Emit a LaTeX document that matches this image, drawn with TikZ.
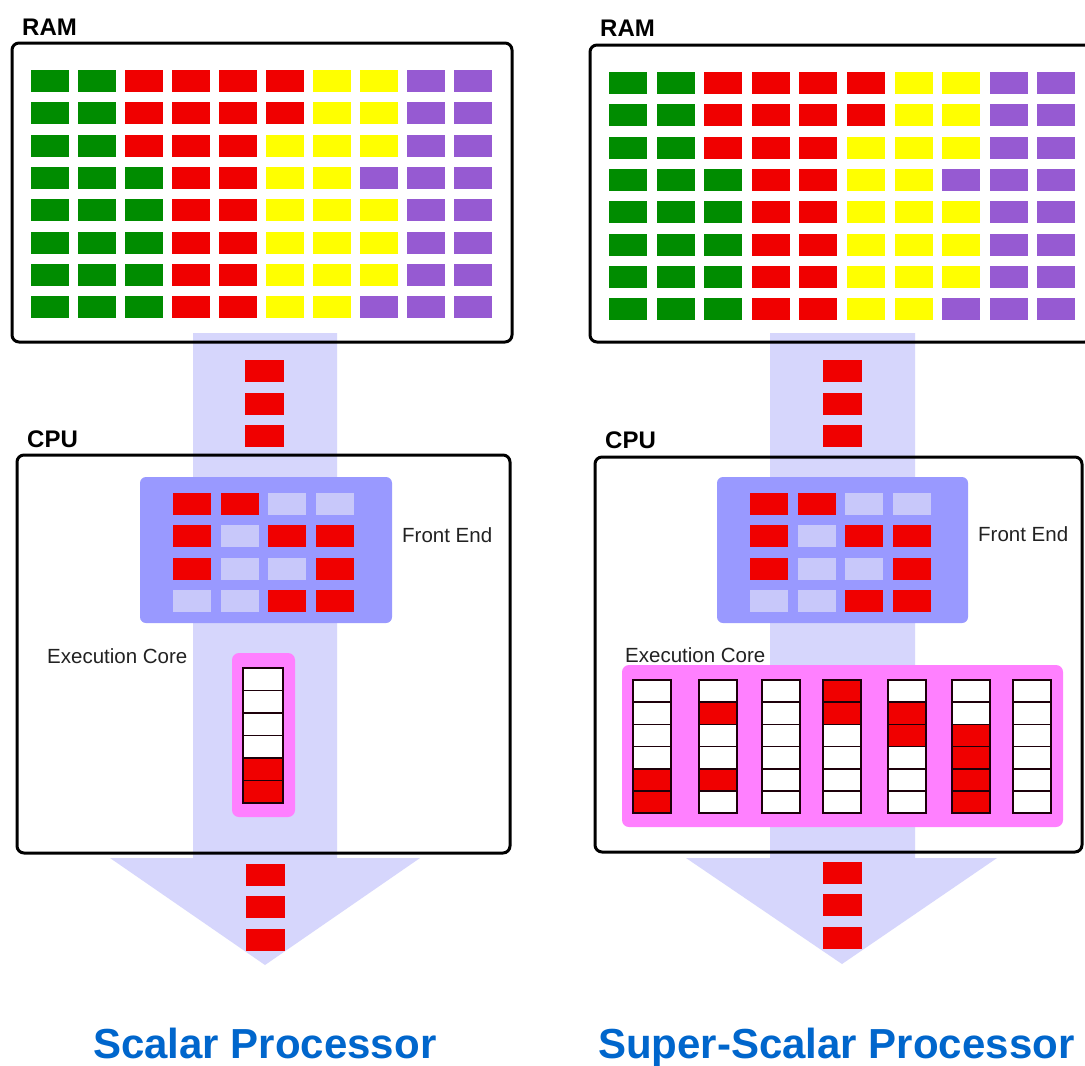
\documentclass[tikz,border=0pt]{standalone}
\usepackage{fontspec}
\setmainfont{Liberation Sans}

\definecolor{ramg}{RGB}{0,140,0}
\definecolor{ramr}{RGB}{240,0,0}
\definecolor{ramy}{RGB}{255,255,0}
\definecolor{ramp}{RGB}{150,90,210}
\definecolor{flow}{RGB}{214,214,252}
\definecolor{febox}{RGB}{153,153,255}
\definecolor{fer}{RGB}{240,0,0}
\definecolor{fel}{RGB}{200,200,250}
\definecolor{corebox}{RGB}{255,128,255}
\definecolor{titleblue}{RGB}{0,102,204}
\definecolor{ink}{RGB}{34,34,34}
\colorlet{cellw}{white}
\colorlet{cellr}{ramr}

\tikzset{
  frame/.style={draw=black, line width=3pt, rounded corners=7pt},
  flowband/.style={fill=flow},
  feframe/.style={fill=febox, rounded corners=6pt},
  coreframe/.style={fill=corebox, rounded corners=7pt},
  slot/.style={draw=black!85!purple, line width=1.5pt},
  heading/.style={inner sep=0pt, anchor=base west, font=\fontsize{24}{24}\selectfont\bfseries, text=black},
  caption/.style={inner sep=0pt, anchor=base west, font=\fontsize{20.5}{20.5}\selectfont, text=ink},
  bigtitle/.style={inner sep=0pt, anchor=base west, font=\fontsize{42}{42}\selectfont\bfseries, text=titleblue},
}

% memory contents: 8 rows x 10 columns
\newcommand\ramgrid[3]{%
  \foreach \rowlist [count=\j from 0] in
    {{g,g,r,r,r,r,y,y,p,p},{g,g,r,r,r,r,y,y,p,p},{g,g,r,r,r,y,y,y,p,p},
     {g,g,g,r,r,y,y,p,p,p},{g,g,g,r,r,y,y,y,p,p},{g,g,g,r,r,y,y,y,p,p},
     {g,g,g,r,r,y,y,y,p,p},{g,g,g,r,r,y,y,p,p,p}}{%
    \foreach \c [count=\i from 0] in \rowlist {%
      \fill[ram\c] ({#1+#3*\i},{#2+32.3*\j}) rectangle ++(38,22);
    }%
  }%
}

% front-end instruction buffer: 4 x 4
\newcommand\fegrid[2]{%
  \foreach \rowlist [count=\j from 0] in {{r,r,l,l},{r,l,r,r},{r,l,l,r},{l,l,r,r}}{%
    \foreach \c [count=\i from 0] in \rowlist {%
      \fill[fe\c] ({#1+47.5*\i},{#2+32.3*\j}) rectangle ++(38,22);
    }%
  }%
}

% one execution pipeline: x, top, width, height, slot states
\newcommand\corecol[5]{%
  \foreach \v [count=\k from 0] in {#5} {%
    \draw[slot, fill=cell\v] (#1,{#2+#4*\k}) rectangle ++(#3,#4);
  }%
}

\begin{document}
\begin{tikzpicture}[x=1pt, y=-1pt]
  \clip (0,0) rectangle (1085,1066);
  \fill[white] (0,0) rectangle (1085,1066);

  % ---------- data flow bands ----------
  \fill[flowband] (193,333) -- (337,333) -- (337,858) -- (420,858) -- (265,965)
                  -- (110,858) -- (193,858) -- cycle;
  \fill[flowband] (770,333) -- (915,333) -- (915,858) -- (997,858) -- (842,964)
                  -- (686,858) -- (770,858) -- cycle;

  % ---------- scalar processor ----------
  \node[heading] (ramA) at (22,35) {RAM};
  \draw[frame] (12,43) rectangle (512,342);
  \ramgrid{31}{70}{47}

  \foreach \y in {360,393,425} \fill[ramr] (245,\y) rectangle ++(39,22);

  \node[heading] (cpuA) at (27,447) {CPU};
  \draw[frame] (17,455) rectangle (510,853);

  \fill[feframe] (140,477) rectangle (392,623);
  \fegrid{173}{493}
  \node[caption] (feA) at (402,542) {Front End};

  \node[caption] (ecA) at (47,663) {Execution Core};
  \fill[coreframe] (232,653) rectangle (295,817);
  \corecol{243}{668}{40}{22.5}{w,w,w,w,r,r}

  \foreach \y in {864,896,929} \fill[ramr] (246,\y) rectangle ++(39,22);

  \node[bigtitle] (scalar) at (93,1058) {Scalar Processor};

  % ---------- super-scalar processor ----------
  \node[heading] (ramB) at (600,36) {RAM};
  \draw[frame] (590,45) rectangle (1092,342);
  \ramgrid{609}{72}{47.6}

  \foreach \y in {360,393,425} \fill[ramr] (823,\y) rectangle ++(39,22);

  \node[heading] (cpuB) at (605,448) {CPU};
  \draw[frame] (595,457) rectangle (1082,852);

  \fill[feframe] (717,477) rectangle (968,623);
  \fegrid{750}{493}
  \node[caption] (feB) at (978,541) {Front End};

  \node[caption] (ecB) at (625,662) {Execution Core};
  \fill[coreframe] (622,665) rectangle (1063,827);
  \corecol{633}{680}{38}{22.2}{w,w,w,w,r,r}
  \corecol{699}{680}{38}{22.2}{w,r,w,w,r,w}
  \corecol{762}{680}{38}{22.2}{w,w,w,w,w,w}
  \corecol{823}{680}{38}{22.2}{r,r,w,w,w,w}
  \corecol{888}{680}{38}{22.2}{w,r,r,w,w,w}
  \corecol{952}{680}{38}{22.2}{w,w,r,r,r,r}
  \corecol{1013}{680}{38}{22.2}{w,w,w,w,w,w}

  \foreach \y in {862,894,927} \fill[ramr] (823,\y) rectangle ++(39,22);

  \node[bigtitle] (superscalar) at (598,1058) {Super-Scalar Processor};
\end{tikzpicture}
\end{document}
